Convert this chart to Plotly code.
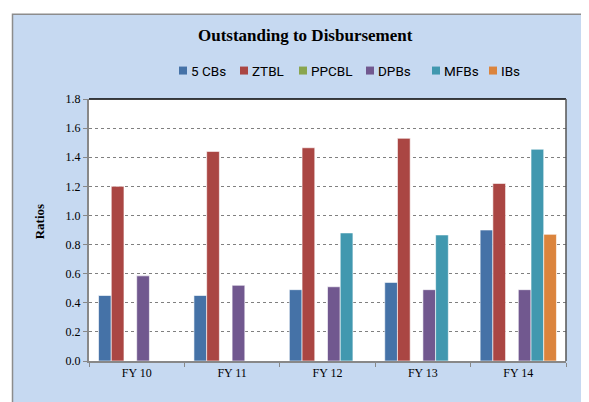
import plotly.graph_objects as go

categories = ["FY 10", "FY 11", "FY 12", "FY 13", "FY 14"]
cbs5 = [0.45, 0.45, 0.49, 0.54, 0.90]
ztbl = [1.20, 1.44, 1.465, 1.53, 1.22]
ppcbl = [None, None, None, None, None]
dpbs = [0.585, 0.52, 0.51, 0.49, 0.49]
mfbs = [None, None, 0.88, 0.866, 1.455]
ibs = [None, None, None, None, 0.87]

names = ["5 CBs", "ZTBL", "PPCBL", "DPBs", "MFBs", "IBs"]
values = [cbs5, ztbl, ppcbl, dpbs, mfbs, ibs]
colors = ["#4572A7", "#AA4643", "#89A54E", "#71588F", "#4198AF", "#DB843D"]

# page offset (body margin)
OFF = 8
W, H = 589, 402
# plot area in page coordinates
PL, PR, PT, PB = 89, 566, 98.5, 361
L = PL - OFF
T = PT - OFF
R = W - (PR - OFF)
B = H - (PB - OFF)
pw, ph = PR - PL, PB - PT


def px(x):
    return (x - PL) / pw


def py(y):
    return (PB - y) / ph


fig = go.Figure()
for name, vals, col in zip(names, values, colors):
    fig.add_trace(go.Bar(x=categories, y=vals, name=name, showlegend=False,
                         marker=dict(color=col, line=dict(color="rgba(255,255,255,0.6)", width=1))))

shapes = [
    dict(type="rect", xref="paper", yref="paper", x0=px(12.5), x1=px(640), y0=py(460), y1=py(13.5),
         fillcolor="#C6D9F1", line=dict(color="#8C8C8C", width=1.5), layer="below"),
    dict(type="rect", xref="paper", yref="paper", x0=0, x1=1, y0=0, y1=1,
         fillcolor="white", line=dict(width=0), layer="below"),
    dict(type="line", xref="paper", yref="paper", x0=0, x1=1, y0=1, y1=1,
         line=dict(color="black", width=1.5)),
    dict(type="line", xref="paper", yref="paper", x0=1, x1=1, y0=0, y1=1,
         line=dict(color="#555555", width=1.5)),
]
annotations = []

# custom legend (page coordinates)
leg_x = [179, 240, 299, 366, 432, 489]
leg_y = 70
for name, col, lx in zip(names, colors, leg_x):
    shapes.append(dict(type="rect", xref="paper", yref="paper",
                       x0=px(lx), x1=px(lx + 8), y0=py(leg_y + 4), y1=py(leg_y - 4),
                       fillcolor=col, line=dict(width=0)))
    annotations.append(dict(text=name, xref="paper", yref="paper", x=px(lx + 9.5), y=py(leg_y),
                            xanchor="left", yanchor="middle", showarrow=False,
                            font=dict(family="Roboto", size=13.5, color="black")))

annotations.append(dict(text="<b>Ratios</b>", xref="paper", yref="paper", x=px(39), y=py(222),
                        xanchor="center", yanchor="middle", showarrow=False, textangle=-90,
                        font=dict(family="Liberation Serif", size=13, color="black")))
annotations.append(dict(text="<b>Outstanding to Disbursement</b>", xref="paper", yref="paper",
                        x=px(305.5), y=py(35), xanchor="center", yanchor="middle", showarrow=False,
                        font=dict(family="Liberation Serif", size=17, color="black")))

fig.update_layout(
    width=W, height=H,
    margin=dict(l=L, r=R, t=T, b=B),
    paper_bgcolor="white",
    plot_bgcolor="white",
    barmode="group",
    bargap=0.2,
    bargroupgap=0.0,
    showlegend=False,
    shapes=shapes,
    annotations=annotations,
)

fig.update_yaxes(range=[0, 1.8], dtick=0.2, tickformat=".1f",
                 showgrid=True, gridcolor="#808080", griddash="dot", gridwidth=1,
                 showline=True, linecolor="#888888", linewidth=2,
                 ticks="outside", ticklen=4, tickcolor="#888888",
                 tickfont=dict(family="Liberation Serif", size=12, color="black"),
                 zeroline=False)
fig.update_xaxes(showline=True, linecolor="#888888", linewidth=2,
                 ticks="outside", tickson="boundaries", ticklen=4, tickcolor="#888888",
                 tickfont=dict(family="Liberation Serif", size=12, color="black"))

fig.write_html("out.html")
